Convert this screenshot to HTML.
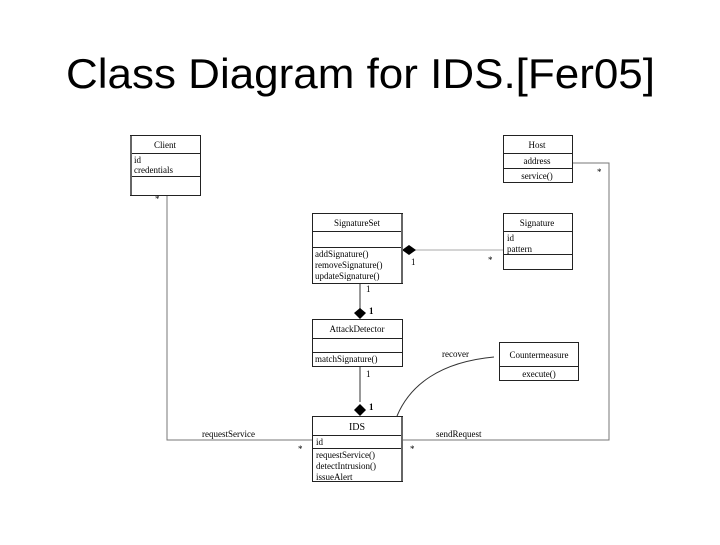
<!DOCTYPE html>
<html><head><meta charset="utf-8"><style>
html,body{margin:0;padding:0;background:#fff;}
</style></head><body>
<svg width="720" height="540" viewBox="0 0 720 540" xmlns="http://www.w3.org/2000/svg">
<rect width="720" height="540" fill="#fff"/>
<text x="66" y="88" font-family="Liberation Sans, Arial, sans-serif" font-size="42" textLength="589" lengthAdjust="spacingAndGlyphs" fill="#000">Class Diagram for IDS.[Fer05]</text>
<g font-family="Liberation Serif, serif" font-size="9" fill="#000">
<!-- connectors -->
<g stroke="#777" stroke-width="1" fill="none">
<polyline points="167,195 167,440 312,440"/>
<polyline points="402,440 609,440 609,163 572,163"/>
<line x1="409" y1="250" x2="503" y2="250" stroke="#aaa"/>
<line x1="360" y1="283" x2="360" y2="310" stroke="#999" stroke-width="2"/>
<line x1="360" y1="366" x2="360" y2="402" stroke="#999" stroke-width="2"/>
<path d="M397,416 C410,385 440,362 494,357" stroke="#333"/>
</g>
<polygon points="402,250 409,245 416,250 409,255" fill="#000"/>
<polygon points="360,308 366,313 360,319 354,313" fill="#000"/>
<polygon points="360,404 366,410 360,416 354,410" fill="#000"/>
<!-- boxes -->
<g fill="#fff" stroke="#222" stroke-width="1">
<rect x="130.5" y="135.5" width="70" height="60"/>
<line x1="130" y1="153.5" x2="200" y2="153.5"/><line x1="130" y1="176.5" x2="200" y2="176.5"/>
<rect x="503.5" y="135.5" width="69" height="47"/>
<line x1="503" y1="153.5" x2="572" y2="153.5"/><line x1="503" y1="168.5" x2="572" y2="168.5"/>
<rect x="312.5" y="213.5" width="90" height="70"/>
<line x1="312" y1="231.5" x2="402" y2="231.5"/><line x1="312" y1="247.5" x2="402" y2="247.5"/>
<rect x="503.5" y="213.5" width="69" height="56"/>
<line x1="503" y1="231.5" x2="572" y2="231.5"/><line x1="503" y1="254.5" x2="572" y2="254.5"/>
<rect x="312.5" y="319.5" width="90" height="47"/>
<line x1="312" y1="338.5" x2="402" y2="338.5"/><line x1="312" y1="352.5" x2="402" y2="352.5"/>
<rect x="499.5" y="342.5" width="79" height="38"/>
<line x1="499" y1="366.5" x2="578" y2="366.5"/>
<rect x="312.5" y="416.5" width="90" height="65"/>
<line x1="312" y1="435.5" x2="402" y2="435.5"/><line x1="312" y1="448.5" x2="402" y2="448.5"/>
</g>
<line x1="131" y1="136" x2="131" y2="195" stroke="#666" stroke-width="2"/>
<line x1="402" y1="214" x2="402" y2="283" stroke="#666" stroke-width="2"/>
<line x1="402" y1="417" x2="402" y2="481" stroke="#666" stroke-width="2"/>
<!-- texts -->
<g text-anchor="middle">
<text x="165" y="148">Client</text>
<text x="537" y="148">Host</text>
<text x="537" y="164">address</text>
<text x="537" y="179">service()</text>
<text x="357" y="226">SignatureSet</text>
<text x="537" y="226">Signature</text>
<text x="357" y="332">AttackDetector</text>
<text x="539" y="358">Countermeasure</text>
<text x="539" y="377">execute()</text>
<text x="357" y="430" font-size="10">IDS</text>
</g>
<text x="134" y="163">id</text>
<text x="134" y="173">credentials</text>
<text x="315" y="257">addSignature()</text>
<text x="315" y="268">removeSignature()</text>
<text x="315" y="279">updateSignature()</text>
<text x="507" y="241">id</text>
<text x="507" y="252">pattern</text>
<text x="315" y="362">matchSignature()</text>
<text x="316" y="445">id</text>
<text x="316" y="458">requestService()</text>
<text x="316" y="469">detectIntrusion()</text>
<text x="316" y="480">issueAlert</text>
<text x="202" y="437">requestService</text>
<text x="436" y="437">sendRequest</text>
<text x="442" y="357">recover</text>
<text x="411" y="265">1</text>
<text x="488" y="263">*</text>
<text x="366" y="292">1</text>
<text x="369" y="314" font-weight="bold">1</text>
<text x="366" y="377">1</text>
<text x="369" y="410" font-weight="bold">1</text>
<text x="298" y="452">*</text>
<text x="410" y="452">*</text>
<text x="597" y="175">*</text>
<text x="155" y="202">*</text>
</g>
</svg>
</body></html>
